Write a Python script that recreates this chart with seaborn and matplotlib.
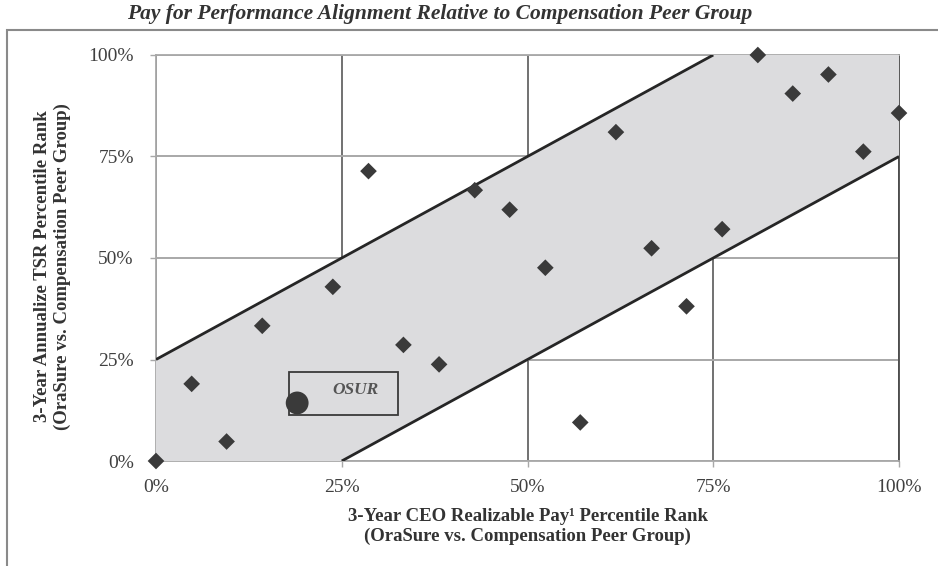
"""Pay for performance alignment chart (OraSure vs. compensation peer group)."""

import matplotlib.pyplot as plt
import pandas as pd
import seaborn as sns
from matplotlib.patches import Polygon, Rectangle

# Peer group percentile ranks (x: realizable pay, y: TSR), in percent
peer_pay_rank = [0.0, 4.8, 9.5, 14.3, 23.8, 28.6, 33.3, 38.1, 42.9, 47.6, 52.4,
                 57.1, 61.9, 66.7, 71.4, 76.2, 81.0, 85.7, 90.5, 95.2, 100.0]
peer_tsr_rank = [0.0, 19.0, 4.8, 33.3, 42.9, 71.4, 28.6, 23.8, 66.7, 61.9, 47.6,
                 9.5, 81.0, 52.4, 38.1, 57.1, 100.0, 90.5, 95.2, 76.2, 85.7]

# OraSure
osur_pay_rank = [19.0]
osur_tsr_rank = [14.3]
osur_label = "OSUR"

# alignment band: +/- 25 percentile points around the diagonal
band_width = 25

tick_values = [0, 25, 50, 75, 100]
tick_labels = ["0%", "25%", "50%", "75%", "100%"]

title = "Pay for Performance Alignment Relative to Compensation Peer Group"
x_label = "3-Year CEO Realizable Pay\u00b9 Percentile Rank\n(OraSure vs. Compensation Peer Group)"
y_label = "3-Year Annualize TSR Percentile Rank\n(OraSure vs. Compensation Peer Group)"

peers = pd.DataFrame({"pay": peer_pay_rank, "tsr": peer_tsr_rank})
osur = pd.DataFrame({"pay": osur_pay_rank, "tsr": osur_tsr_rank})

sns.set_theme(style="white")
plt.rcParams["font.family"] = ["Liberation Serif", "DejaVu Serif"]

fig = plt.figure(figsize=(9.38, 5.66), dpi=100)
ax = fig.add_axes([156 / 938, 105 / 566, 743 / 938, 406 / 566])
ax.set_xlim(0, 100)
ax.set_ylim(0, 100)

# grid (drawn below the band, like the original)
ax.set_axisbelow(True)
ax.xaxis.grid(True, color="#4a4a4a", lw=1.1)
ax.yaxis.grid(True, color="#a8a8a8", lw=1.4)
for side, col in [("left", "#a8a8a8"), ("bottom", "#a8a8a8"),
                  ("top", "#a8a8a8"), ("right", "#4a4a4a")]:
    ax.spines[side].set_color(col)
    ax.spines[side].set_linewidth(1.3)
    ax.spines[side].set_zorder(0.6)

# shaded alignment band
lo, hi = 0, 100
band = Polygon(
    [(lo, lo), (lo + band_width, lo), (hi, hi - band_width),
     (hi, hi), (hi - band_width, hi), (lo, lo + band_width)],
    closed=True, facecolor="#dcdcde", edgecolor="none", zorder=1,
)
ax.add_patch(band)
ax.plot([lo, hi - band_width], [lo + band_width, hi], color="#262626", lw=2.0, zorder=2,
        solid_capstyle="butt")
ax.plot([lo + band_width, hi], [lo, hi - band_width], color="#262626", lw=2.0, zorder=2,
        solid_capstyle="butt")

# peers and OraSure
sns.scatterplot(data=peers, x="pay", y="tsr", marker="D", s=72, color="#3a3a3a",
                edgecolor="none", zorder=4, clip_on=False, ax=ax)
ax.add_patch(Rectangle((17.9, 11.3), 14.7, 10.5, fill=False, edgecolor="#3a3a3a",
                       lw=1.3, zorder=3))
ax.text(26.8, 17.5, osur_label, ha="center", va="center", fontsize=12.5,
        fontweight="bold", fontstyle="italic", color="#555555", zorder=3)
sns.scatterplot(data=osur, x="pay", y="tsr", marker="o", s=270, color="#3a3a3a",
                edgecolor="none", zorder=5, clip_on=False, ax=ax)

ax.set_xticks(tick_values)
ax.set_xticklabels(tick_labels)
ax.set_yticks(tick_values)
ax.set_yticklabels(tick_labels)
ax.tick_params(axis="x", length=4, width=1, color="#a8a8a8", pad=9,
               labelsize=14, labelcolor="#404040", bottom=True)
ax.tick_params(axis="y", length=4, width=1, color="#a8a8a8", pad=12,
               labelsize=14, labelcolor="#404040", left=True)

ax.set_xlabel(x_label, fontsize=13.5, fontweight="bold", color="#333333", linespacing=1.25)
ax.xaxis.set_label_coords(0.5, -0.115)
ax.set_ylabel(y_label, fontsize=13.5, fontweight="bold", color="#333333", linespacing=1.2)
ax.yaxis.set_label_coords(-0.114, 0.48)

fig.text(440 / 938, 1 - 14 / 566, title, ha="center", va="center", fontsize=15.5,
         fontweight="bold", fontstyle="italic", color="#333333")

# outer frame around the chart
fig.add_artist(Rectangle((7 / 938, -0.1), 2, (1 - 30 / 566) + 0.1,
                         transform=fig.transFigure, fill=False,
                         edgecolor="#8a8a8a", lw=1.5))

plt.savefig("out.png", dpi=100)
plt.close()
